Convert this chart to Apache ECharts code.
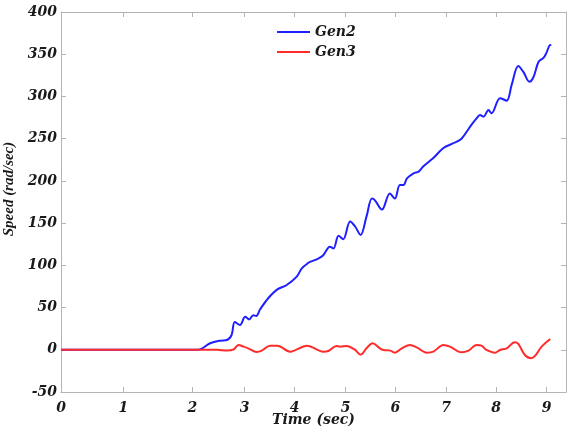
<!DOCTYPE html>
<html>
<head>
<meta charset="utf-8">
<script src="https://cdn.jsdelivr.net/npm/echarts@6/dist/echarts.min.js"></script>
<style>html,body{margin:0;padding:0;background:#fff}#c{width:568px;height:432px}</style>
</head>
<body>
<div id="c"></div>
<script>
// ---- data ----
const timeTicks = [0, 1, 2, 3, 4, 5, 6, 7, 8, 9];
const speedTicks = [-50, 0, 50, 100, 150, 200, 250, 300, 350, 400];
const seriesNames = ['Gen2', 'Gen3'];

const gen2Time = [0, 2.11, 2.34, 2.53, 2.66, 2.75, 2.81, 2.91, 3.01, 3.09, 3.17, 3.23, 3.31, 3.47, 3.64, 3.84, 4.04, 4.14, 4.27, 4.30, 4.46, 4.56, 4.69, 4.76, 4.86, 4.95, 5.09, 5.19, 5.30, 5.42, 5.53, 5.59, 5.73, 5.89, 5.99, 6.09, 6.16, 6.23, 6.36, 6.46, 6.55, 6.75, 6.95, 7.15, 7.31, 7.48, 7.61, 7.68, 7.75, 7.85, 7.91, 8.08, 8.21, 8.31, 8.44, 8.54, 8.66, 8.74, 8.84, 8.94, 8.99, 9.07, 9.08];
const gen2Speed = [0, 0, 7.7, 10.8, 11.6, 17.5, 33, 29.4, 39, 36, 41, 40, 48, 61, 71, 76.7, 86.6, 96.5, 103, 104, 108, 112, 122, 120, 135, 131, 152, 146, 136, 158, 179, 177, 166, 185, 179, 195, 195, 203, 209, 211, 217, 227, 239, 244.6, 250, 264, 274, 278, 276, 284, 280, 298, 295, 314, 336, 329, 317.5, 323, 341, 346, 351, 361, 360];

const gen3Time = [0, 2.47, 2.66, 2.79, 2.88, 2.98, 3.07, 3.24, 3.34, 3.51, 3.65, 3.91, 4.24, 4.56, 4.66, 4.82, 4.89, 5.02, 5.19, 5.30, 5.42, 5.54, 5.69, 5.76, 5.90, 5.99, 6.13, 6.29, 6.42, 6.62, 6.75, 6.95, 7.08, 7.31, 7.45, 7.61, 7.71, 7.81, 7.98, 8.08, 8.21, 8.37, 8.44, 8.57, 8.69, 8.77, 8.90, 9.07];
const gen3Speed = [0, 0, -1, 0.5, 5.7, 3.7, 1.7, -2.6, -1, 4.9, 4.9, -2.2, 4.9, -2.2, -1.4, 4.5, 3.7, 4.5, -0.2, -5.8, 1.7, 7.7, 1.7, -0.2, -1, -3.4, 1.7, 5.7, 2.9, -3.4, -2.2, 5.7, 3.7, -3, -1, 5.7, 4.9, -0.2, -3.4, -0.2, 1.7, 8.9, 6.9, -6.2, -10, -7.3, 3.7, 12.8];

// ---- layout: the reference's time axis is not evenly spaced; axis units per tick ----
const tickPlacement = [0, 62.3, 131.3, 183.7, 233.7, 284.7, 334.3, 385, 435, 485.7];
const axisSpan = 505;
function warp(t) {
  const n = timeTicks.length;
  for (let i = 0; i < n - 1; i++) {
    if (t <= timeTicks[i + 1]) {
      const f = (t - timeTicks[i]) / (timeTicks[i + 1] - timeTicks[i]);
      return tickPlacement[i] + f * (tickPlacement[i + 1] - tickPlacement[i]);
    }
  }
  const slope = (tickPlacement[n - 1] - tickPlacement[n - 2]) / (timeTicks[n - 1] - timeTicks[n - 2]);
  return tickPlacement[n - 1] + (t - timeTicks[n - 1]) * slope;
}
const tickVals = timeTicks.map(warp);
function pairs(ts, vs) { return ts.map((t, i) => [warp(t), vs[i]]); }

const FONT = 'DejaVu Serif';
const frame = '#b4b4b4';
const lbl = { fontFamily: FONT, fontStyle: 'italic', fontWeight: 'bold', fontSize: 14, color: '#1a1a1a' };
const line = { onZero: false, lineStyle: { color: frame, width: 1 } };

const chart = echarts.init(document.getElementById('c'), null, { renderer: 'canvas' });
chart.setOption({
  animation: false,
  backgroundColor: '#fff',
  grid: { left: 61, right: 2, top: 12, bottom: 40, outerBoundsMode: 'none', containLabel: false },
  legend: {
    orient: 'vertical', left: 272, top: 20, itemWidth: 33, itemHeight: 2, itemGap: 6, icon: 'rect',
    textStyle: Object.assign({}, lbl, { fontSize: 14, padding: [0, 0, 0, 0] }),
    data: seriesNames
  },
  xAxis: [{
    type: 'value', min: 0, max: axisSpan, position: 'bottom',
    name: 'Time (sec)', nameLocation: 'middle', nameGap: 21, nameMoveOverlap: false,
    nameTextStyle: Object.assign({}, lbl),
    axisLine: line,
    axisTick: { inside: true, length: 5, lineStyle: { color: frame }, customValues: tickVals },
    axisLabel: Object.assign({}, lbl, { margin: 9, customValues: tickVals,
      formatter: v => { const i = tickVals.findIndex(x => Math.abs(x - v) < 0.01); return i >= 0 ? String(timeTicks[i]) : ''; } }),
    splitLine: { show: false }
  }, {
    type: 'value', min: 0, max: axisSpan, position: 'top', show: true,
    axisLine: line,
    axisTick: { inside: true, length: 5, lineStyle: { color: frame }, customValues: tickVals },
    axisLabel: { show: false }, splitLine: { show: false }
  }],
  yAxis: [{
    type: 'value', min: speedTicks[0], max: speedTicks[speedTicks.length - 1], interval: 50, position: 'left',
    name: 'Speed (rad/sec)', nameLocation: 'middle', nameGap: 41,
    nameTextStyle: Object.assign({}, lbl, { fontFamily: 'Liberation Serif', fontSize: 15, padding: [0, 0, 0, 26] }),
    axisLine: Object.assign({ show: true }, line),
    axisTick: { show: true, inside: true, length: 5, lineStyle: { color: frame } },
    axisLabel: Object.assign({}, lbl, { margin: 4 }),
    splitLine: { show: false }
  }, {
    type: 'value', min: speedTicks[0], max: speedTicks[speedTicks.length - 1], interval: 50, position: 'right', show: true,
    axisLine: Object.assign({ show: true }, line),
    axisTick: { show: true, inside: true, length: 5, lineStyle: { color: frame } },
    axisLabel: { show: false }, splitLine: { show: false }
  }],
  series: [{
    name: seriesNames[0], type: 'line', symbol: 'none', smooth: 0.35,
    data: pairs(gen2Time, gen2Speed),
    lineStyle: { color: '#1f1fff', width: 2 }, itemStyle: { color: '#1f1fff' }
  }, {
    name: seriesNames[1], type: 'line', symbol: 'none', smooth: 0.35,
    data: pairs(gen3Time, gen3Speed),
    lineStyle: { color: '#ff2a2a', width: 2 }, itemStyle: { color: '#ff2a2a' }
  }]
});
</script>
</body>
</html>
